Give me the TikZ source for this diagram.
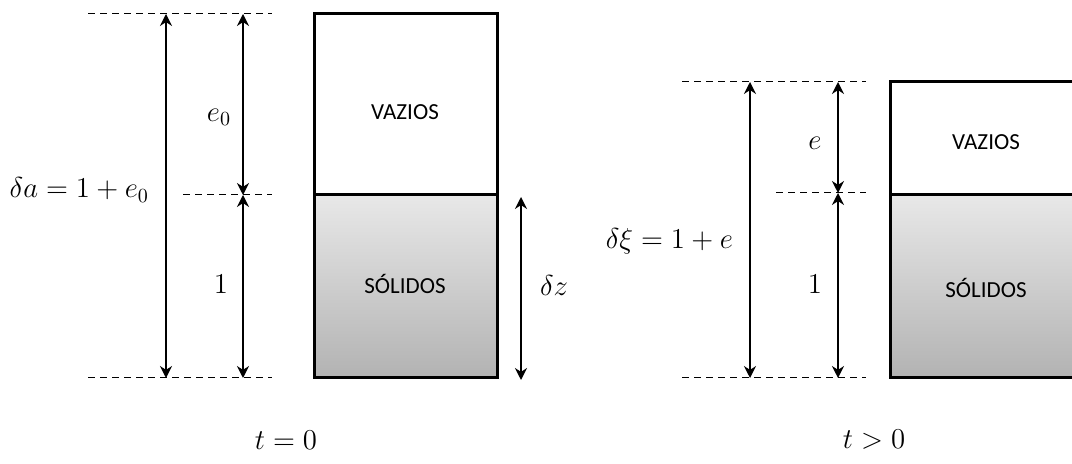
\documentclass[tikz,border=0pt]{standalone}
\usepackage{fontspec}
\newfontfamily\calibri{Carlito}
\usetikzlibrary{arrows.meta}
\tikzset{
  dim/.style={line width=0.8pt,{Stealth[length=6pt,width=6pt]}-{Stealth[length=6pt,width=6pt]}},
  guide/.style={line width=0.5pt,dash pattern=on 3.5pt off 2.5pt},
  boxline/.style={line width=1.5pt},
  solid fill/.style={top color=black!9,bottom color=black!30},
  lbl/.style={font=\fontsize{14.5}{17}\selectfont},
  txt/.style={font=\calibri\fontsize{11.5}{14}\selectfont},
}
\begin{document}
\begin{tikzpicture}[x=0.5pt,y=-0.5pt]
\useasboundingbox (0,0) rectangle (1072,464);
% ---------- left (t=0)
\coordinate (LTl) at (88,14);  \coordinate (LTr) at (272,14);
\coordinate (LMl) at (183,195); \coordinate (LMr) at (272,195);
\coordinate (LBl) at (88,378); \coordinate (LBr) at (272,378);
\draw[guide] (LTl) -- (LTr);
\draw[guide] (LMl) -- (LMr);
\draw[guide] (LBl) -- (LBr);
\coordinate (A1t) at (166,14); \coordinate (A1b) at (166,378);
\coordinate (A2t) at (243,14); \coordinate (A2m) at (243,195); \coordinate (A2b) at (243,378);
\draw[dim] (A1b) -- (A1t);
\draw[dim] (A2m) -- (A2t);
\draw[dim] (A2b) -- (A2m);
\shade[solid fill] (314,195) rectangle (497,378);
\draw[boxline] (314,14) rectangle (497,378);
\draw[boxline] (314,195) -- (497,195);
\node[txt] (v1) at (405,112) {VAZIOS};
\node[txt] (s1) at (405,284) {SÓLIDOS};
\coordinate (Zt) at (521,197); \coordinate (Zb) at (521,380);
\draw[dim] (Zb) -- (Zt);
\node[lbl] (dz) at (554,286) {$\delta z$};
\node[lbl] (e0) at (219,117) {$e_0$};
\node[lbl] (one1) at (221,284) {$1$};
\node[lbl,anchor=east] (da) at (156,190) {$\delta a = 1 + e_0$};
\node[lbl] (t0) at (286,440) {$t = 0$};
% ---------- right (t>0)
\coordinate (RTl) at (682,82);  \coordinate (RTr) at (866,82);
\coordinate (RMl) at (776,193); \coordinate (RMr) at (866,193);
\coordinate (RBl) at (682,378); \coordinate (RBr) at (866,378);
\draw[guide] (RTl) -- (RTr);
\draw[guide] (RMl) -- (RMr);
\draw[guide] (RBl) -- (RBr);
\coordinate (B1t) at (750,82); \coordinate (B1b) at (750,378);
\coordinate (B2t) at (838,82); \coordinate (B2m) at (838,193); \coordinate (B2b) at (838,378);
\draw[dim] (B1b) -- (B1t);
\draw[dim] (B2m) -- (B2t);
\draw[dim] (B2b) -- (B2m);
\shade[solid fill] (890,195) rectangle (1080,378);
\draw[boxline] (890,82) rectangle (1080,378);
\draw[boxline] (890,195) -- (1080,195);
\node[txt] (v2) at (986,142) {VAZIOS};
\node[txt] (s2) at (986,288) {SÓLIDOS};
\node[lbl] (ee) at (815,143) {$e$};
\node[lbl] (one2) at (815,284) {$1$};
\node[lbl,anchor=east] (dx) at (740,241) {$\delta \xi = 1 + e$};
\node[lbl] (tp) at (874,440) {$t > 0$};
\end{tikzpicture}
\end{document}
